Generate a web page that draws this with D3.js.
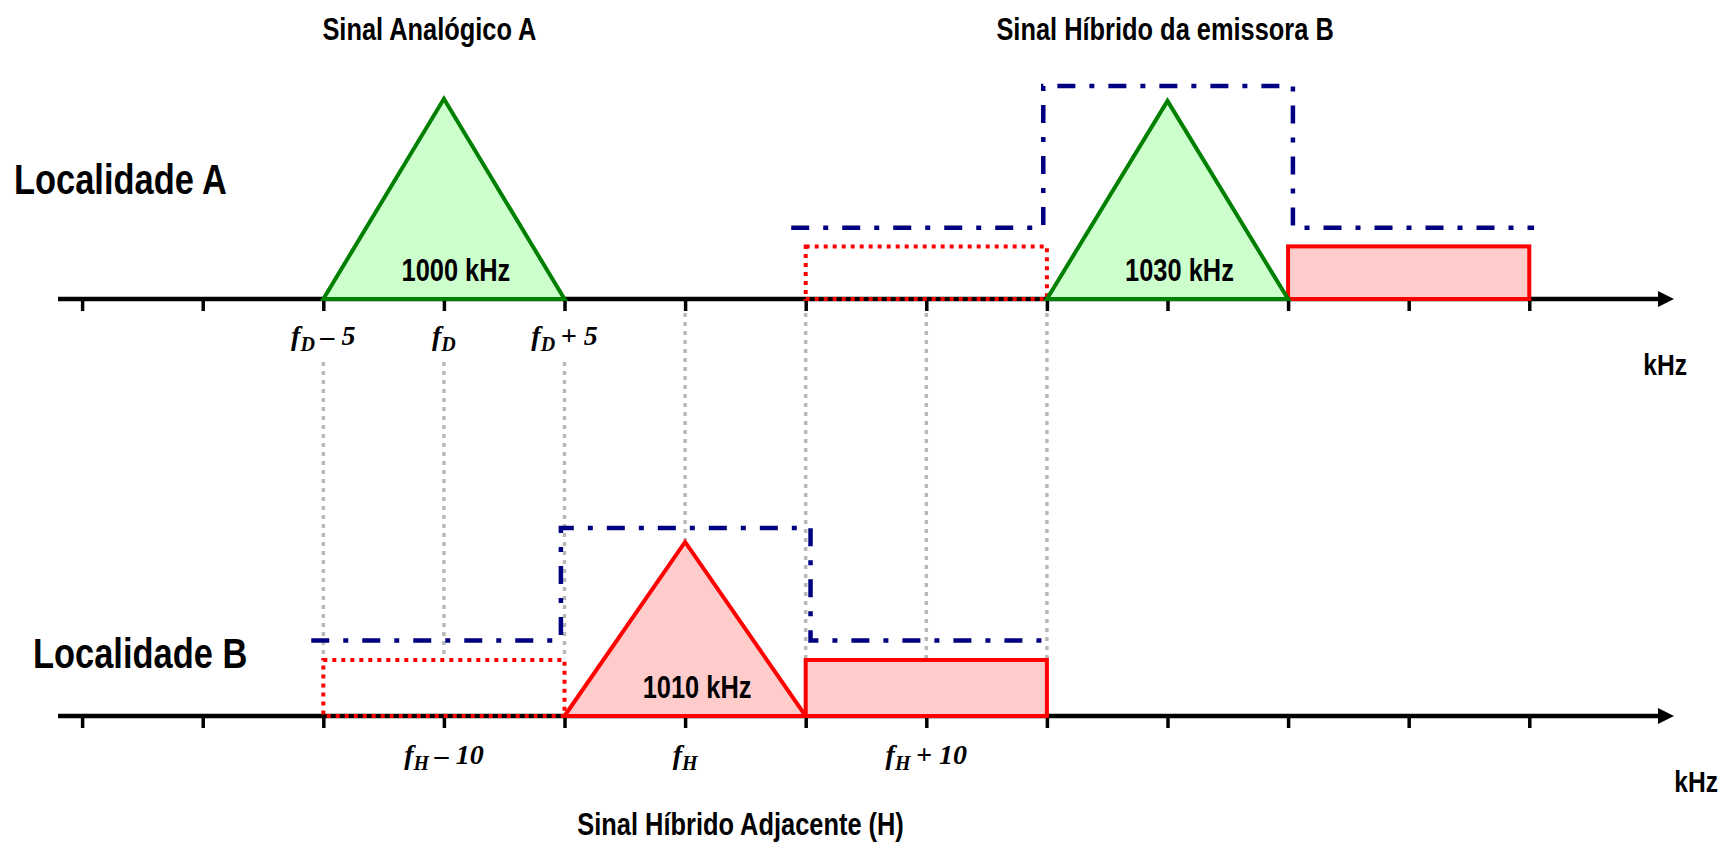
<!DOCTYPE html>
<html>
<head>
<meta charset="utf-8">
<script src="https://cdn.jsdelivr.net/npm/d3@7"></script>
<style>
  body { margin: 0; background: #fff; }
  svg { display: block; }
  .sans { font-family: "Liberation Sans", Arial, sans-serif; font-weight: bold; }
  .serif { font-family: "Liberation Serif", "Times New Roman", serif; font-weight: bold; font-style: italic; }
</style>
</head>
<body>
<svg id="chart" width="1724" height="847"></svg>
<script>
// frequencies in kHz, levels in % of the mask peak
var tickFreqs = [985, 990, 995, 1000, 1005, 1010, 1015, 1020, 1025, 1030, 1035, 1040, 1045];

var carriersA = [
  {f: 1000, half: 5, peak: 94, label: "1000 kHz", kind: "analog"},
  {f: 1030, half: 5, peak: 93, label: "1030 kHz", kind: "analog"}
];
var carriersB = [
  {f: 1010, half: 5, peak: 92.6, label: "1010 kHz", kind: "hybrid"}
];

var sidebandsA = [
  {from: 1015, to: 1025, level: 24.7, dotted: true},
  {from: 1035, to: 1045, level: 24.7, dotted: false}
];
var sidebandsB = [
  {from: 995, to: 1005, level: 29.8, dotted: true},
  {from: 1015, to: 1025, level: 29.8, dotted: false}
];

var maskA = [[1014.4, 33.4], [1024.85, 33.4], [1024.85, 100], [1035.2, 100], [1035.2, 33.4], [1045.2, 33.4]];
var maskB = [[994.5, 40.2], [1004.85, 40.2], [1004.85, 100], [1015.2, 100], [1015.2, 40.2], [1025.1, 40.2]];

// vertical guides: frequency, level where they stop in panel B
var guides = [[995, 29.8], [1000, 29.8], [1005, 29.8], [1010, 92.6], [1015, 29.8], [1020, 29.8], [1025, 29.8]];

var labelsA = [
  {f: 995, sub: "D", tail: "\u2013 5"},
  {f: 1000, sub: "D", tail: ""},
  {f: 1005, sub: "D", tail: "+ 5"}
];
var labelsB = [
  {f: 1000, sub: "H", tail: "\u2013 10"},
  {f: 1010, sub: "H", tail: ""},
  {f: 1020, sub: "H", tail: "+ 10"}
];

var titles = [
  {text: "Sinal Anal\u00f3gico A", f: 999.4, y: 40},
  {text: "Sinal H\u00edbrido da emissora B", f: 1029.9, y: 40},
  {text: "Sinal H\u00edbrido Adjacente (H)", f: 1012.3, y: 835}
];

var svg = d3.select("#chart");

var x = d3.scaleLinear().domain([984, 1051]).range([58, 1674]);
var axisAY = 299, axisBY = 716;
var yA = d3.scaleLinear().domain([0, 100]).range([axisAY, 86]);
var yB = d3.scaleLinear().domain([0, 100]).range([axisBY, 528]);

var colors = {
  analogFill: "#ccffcc", analogStroke: "#008000",
  hybridFill: "#ffcccc", hybridStroke: "#ff0000",
  mask: "#000080", guide: "#b8b8b8"
};

// no narrow font installed, so squeeze a normal one
var squeeze = 0.82;
function place(px, py) {
  return "translate(" + px + "," + py + ") scale(" + squeeze + ",1)";
}

// grey guides between the two panels
svg.append("g").selectAll("line")
    .data(guides)
  .enter().append("line")
    .attr("x1", function(d) { return x(d[0]); })
    .attr("x2", function(d) { return x(d[0]); })
    .attr("y1", function(d) {
      var labeled = labelsA.some(function(l) { return l.f == d[0]; });
      return labeled ? axisAY + 63 : axisAY + 14;
    })
    .attr("y2", function(d) { return yB(d[1]) - 2; })
    .attr("stroke", colors.guide)
    .attr("stroke-width", 3.5)
    .attr("stroke-dasharray", "4,5");

function drawAxis(y0) {
  var g = svg.append("g");
  var axis = d3.axisBottom(x).tickValues(tickFreqs).tickSize(12).tickFormat("");
  g.attr("transform", "translate(0," + y0 + ")").call(axis);
  g.select(".domain").remove();
  g.selectAll(".tick line").attr("stroke", "#000").attr("stroke-width", 3.5);
  g.append("line")
      .attr("x1", x.range()[0]).attr("x2", x.range()[1] - 12)
      .attr("stroke", "#000").attr("stroke-width", 4.5);
  var tip = x.range()[1];
  g.append("path")
      .attr("d", "M" + tip + ",0L" + (tip - 16) + ",-8L" + (tip - 16) + ",8Z")
      .attr("fill", "#000");
}

function drawPanel(y, carriers, sidebands, mask) {
  var g = svg.append("g");

  g.selectAll("rect")
      .data(sidebands)
    .enter().append("rect")
      .attr("x", function(d) { return x(d.from); })
      .attr("y", function(d) { return y(d.level); })
      .attr("width", function(d) { return x(d.to) - x(d.from); })
      .attr("height", function(d) { return y(0) - y(d.level); })
      .attr("fill", function(d) { return d.dotted ? "none" : colors.hybridFill; })
      .attr("stroke", colors.hybridStroke)
      .attr("stroke-width", 4)
      .attr("stroke-dasharray", function(d) { return d.dotted ? "4,5" : null; });

  g.selectAll("path.carrier")
      .data(carriers)
    .enter().append("path")
      .attr("class", "carrier")
      .attr("d", function(d) {
        return "M" + x(d.f - d.half) + "," + y(0) +
               "L" + x(d.f) + "," + y(d.peak) +
               "L" + x(d.f + d.half) + "," + y(0) + "Z";
      })
      .attr("fill", function(d) { return d.kind == "analog" ? colors.analogFill : colors.hybridFill; })
      .attr("stroke", function(d) { return d.kind == "analog" ? colors.analogStroke : colors.hybridStroke; })
      .attr("stroke-width", 4);

  g.selectAll("text")
      .data(carriers)
    .enter().append("text")
      .attr("class", "sans")
      .attr("transform", function(d) { return place(x(d.f) + 12, y(0) - 18); })
      .attr("text-anchor", "middle")
      .attr("font-size", 31)
      .text(function(d) { return d.label; });

  var line = d3.line()
      .x(function(d) { return x(d[0]); })
      .y(function(d) { return y(d[1]); });

  g.append("path")
      .datum(mask)
      .attr("d", line)
      .attr("fill", "none")
      .attr("stroke", colors.mask)
      .attr("stroke-width", 4.5)
      .attr("stroke-dasharray", "18,14,5,14");
}

function drawFreqLabels(labels, baseline) {
  var t = svg.append("g").selectAll("text")
      .data(labels)
    .enter().append("text")
      .attr("class", "serif")
      .attr("x", function(d) { return x(d.f); })
      .attr("y", baseline)
      .attr("text-anchor", "middle")
      .attr("font-size", 28);
  t.append("tspan").text("f");
  t.append("tspan").attr("dy", 6).attr("font-size", 20).text(function(d) { return d.sub; });
  t.append("tspan").attr("dy", -6)
      .text(function(d) { return d.tail ? "\u2009" + d.tail : ""; });
}

drawAxis(axisAY);
drawAxis(axisBY);
drawPanel(yA, carriersA, sidebandsA, maskA);
drawPanel(yB, carriersB, sidebandsB, maskB);
drawFreqLabels(labelsA, axisAY + 46);
drawFreqLabels(labelsB, axisBY + 48);

svg.append("g").selectAll("text")
    .data(titles)
  .enter().append("text")
    .attr("class", "sans")
    .attr("transform", function(d) { return place(x(d.f), d.y); })
    .attr("text-anchor", "middle")
    .attr("font-size", 31)
    .text(function(d) { return d.text; });

svg.append("text").attr("class", "sans")
    .attr("transform", place(14, 194)).attr("font-size", 42)
    .text("Localidade A");
svg.append("text").attr("class", "sans")
    .attr("transform", place(33, 668)).attr("font-size", 42)
    .text("Localidade B");

svg.append("text").attr("class", "sans")
    .attr("transform", place(1687, 375)).attr("text-anchor", "end").attr("font-size", 30)
    .text("kHz");
svg.append("text").attr("class", "sans")
    .attr("transform", place(1718, 792)).attr("text-anchor", "end").attr("font-size", 30)
    .text("kHz");
</script>
</body>
</html>
